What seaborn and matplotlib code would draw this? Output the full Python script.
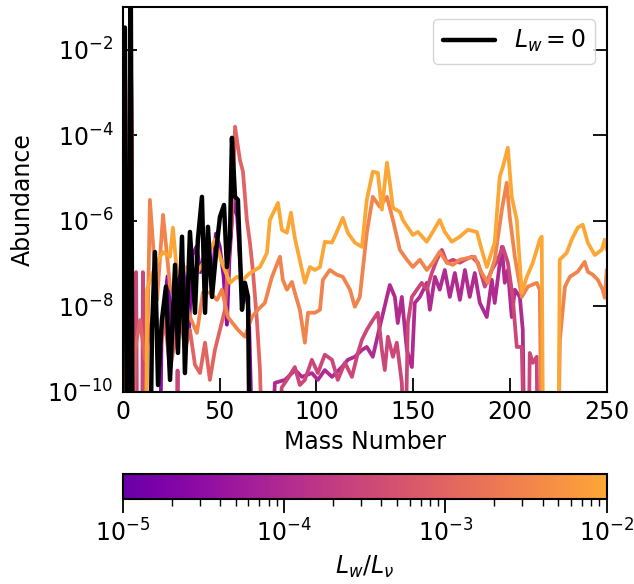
import numpy as np
import pandas as pd
import matplotlib
matplotlib.use("Agg")
import matplotlib.pyplot as plt
import seaborn as sns
from matplotlib.colors import LogNorm, ListedColormap
from matplotlib.cm import ScalarMappable
from matplotlib.ticker import NullLocator

# Wind luminosity ratios L_w / L_nu of the coloured runs
lw_values = [3e-5, 1e-4, 3e-4, 1e-3, 3e-3, 1e-2]

# (mass number, log10 abundance); -12 marks abundances far below the plotted range
run_3e5 = [(1, -1.5), (2, -12), (3, -12), (4, -0.3), (5, -12), (19, -12), (20, -8.5), (23, -7.3),
           (26, -9.0), (28, -7.5), (31, -7.0), (34, -8.6), (36, -6.8), (38, -6.6), (40, -7.2),
           (42, -6.8), (44, -6.5), (46, -7.5), (48, -6.3), (50, -6.6), (52, -7.3), (53.7, -8.43),
           (55, -6.9), (57, -5.5), (59, -5.9), (61, -7.3), (63, -7.6), (65, -8.1), (66, -9.8),
           (67, -12)]

run_1e4 = [(1, -1.5), (2, -12), (3, -12), (4, -0.3), (5, -12), (76, -12), (78.5, -9.79),
           (83.7, -9.72), (89, -9.49), (92.5, -9.65), (97.6, -9.56), (100.7, -9.72), (104.3, -9.49),
           (108, -9.65), (113.1, -9.42), (116.2, -9.25), (119.8, -9.18), (123.5, -9.02), (126, -8.95),
           (129.1, -9.18), (132.7, -8.48), (136.4, -7.78), (137.9, -7.50), (140.5, -7.78),
           (142, -8.39), (144.1, -7.78), (146.7, -9.02), (149.3, -9.42), (150.8, -7.92),
           (153.4, -7.78), (157, -7.45), (158.6, -8.08), (161.2, -7.31), (163.7, -7.61),
           (166.3, -7.15), (168.9, -7.78), (171.5, -7.22), (174.1, -7.85), (176.7, -7.15),
           (179.2, -7.78), (181.8, -7.22), (184.4, -7.92), (188, -8.25), (190.6, -7.38),
           (192.1, -7.92), (195.8, -6.61), (197.3, -7.45), (198.9, -7.15), (200.9, -8.25),
           (202.5, -7.61), (205.1, -7.78), (206.6, -8.55), (207.6, -12)]

run_3e4 = [(1, -1.5), (2, -12), (3, -12), (4, -0.3), (5, -12), (6.4, -12), (6.8, -7.2), (7.4, -12),
           (9.8, -12), (10.3, -7.2), (10.9, -12), (27.5, -12), (28.2, -9.5), (28.8, -12), (80, -12),
           (82, -9.9), (85, -9.7), (88.8, -9.42), (91.4, -9.84), (94, -9.72), (97.6, -9.25),
           (100.7, -9.56), (104.3, -9.13), (108, -9.25), (111, -9.72), (114.7, -9.32),
           (118.3, -9.65), (121.4, -9.09), (123.5, -8.78), (126, -8.55), (129.1, -8.32),
           (131.7, -8.15), (133.8, -9.02), (135.3, -9.49), (136.9, -8.71), (139.5, -9.18),
           (141.5, -8.85), (144.1, -9.79), (145.7, -12), (147.2, -8.39), (149.3, -7.78),
           (151.9, -7.61), (154.4, -7.45), (157, -7.61), (159.6, -7.22), (162.2, -6.91),
           (164.8, -6.68), (167.4, -6.98), (170.5, -6.91), (174.1, -6.98), (176.7, -6.91),
           (180.3, -6.84), (183.4, -6.98), (187, -7.54), (190.6, -7.15), (193.7, -6.91),
           (196.3, -6.61), (198.9, -6.98), (201.4, -7.78), (203.5, -8.95), (206.1, -8.95),
           (207.6, -12), (209.5, -12), (210.2, -9.09), (211.8, -9.32), (213.8, -9.18), (214.4, -12)]

run_1e3 = [(1, -1.5), (2, -12), (3, -12), (4, -0.3), (5, -12), (6.2, -9.02), (8.8, -8.32),
           (11.4, -9.25), (13.9, -8.55), (16.5, -7.96), (19.1, -9.02), (21.7, -8.32), (24.3, -9.49),
           (26.9, -8.78), (29.4, -8.08), (32, -9.02), (34.6, -8.55), (37.2, -9.37), (39.8, -9.56),
           (42.4, -8.85), (44.9, -9.72), (47.5, -9.02), (50.1, -8.55), (52.7, -8.08), (54.8, -6.68),
           (56.3, -5.98), (57.9, -3.80), (60.4, -4.57), (62, -4.85), (64, -5.98), (65.6, -6.51),
           (67.1, -7.15), (69.2, -8.32), (70.8, -9.49), (72.3, -12)]

run_3e3 = [(1, -1.5), (2, -12), (3, -12), (4, -0.3), (5, -12), (11.4, -12), (13.9, -5.51),
           (17.6, -7.85), (20.7, -5.86), (24.3, -7.54), (27.9, -7.85), (31, -7.61), (34.6, -8.25),
           (38.2, -8.62), (41.3, -7.68), (44.9, -7.68), (48.6, -7.85), (51.1, -7.61), (54.2, -8.25),
           (59.4, -8.55), (63, -8.71), (66.6, -8.25), (69.7, -8.08), (73.3, -7.92), (77, -7.31),
           (81.1, -6.84), (82.6, -7.38), (84.7, -7.61), (87.3, -7.43), (88.8, -7.68), (91.4, -8.08),
           (94, -8.85), (95.6, -8.15), (99.2, -8.15), (101.8, -8.08), (103.3, -7.38), (106.9, -7.15),
           (110.5, -7.26), (113.6, -7.31), (117.3, -7.61), (119.8, -8.01), (122.4, -7.78),
           (126, -6.28), (129.1, -5.44), (132.7, -5.67), (136.4, -5.44), (139.5, -5.98),
           (143.1, -6.68), (146.7, -6.91), (149.8, -7.08), (153.4, -6.91), (157, -7.15),
           (160.1, -6.98), (163.7, -6.72), (167.4, -6.98), (170.5, -7.03), (174.1, -6.91),
           (178.2, -6.87), (181.8, -6.84), (185.4, -7.22), (188.5, -7.45), (192.1, -6.91),
           (195.8, -5.74), (198.3, -5.11), (199.9, -5.91), (202.5, -6.84), (206.1, -7.78),
           (209.2, -7.54), (213.8, -7.45), (215.4, -7.61), (216.4, -12), (224.8, -12),
           (225.8, -8.78), (228.4, -7.54), (230.9, -7.31), (235, -7.19), (238.6, -6.96),
           (240.2, -7.19), (242.8, -7.26), (245.4, -7.38), (247.9, -7.61), (249, -7.80), (250, -7.15)]

run_1e2 = [(1, -1.5), (2, -12), (3, -12), (4, -0.3), (5, -12), (11.9, -12), (12.4, -7.61),
           (15, -7.26), (17.6, -6.96), (20.7, -6.73), (24.3, -6.84), (25.8, -6.16), (27.9, -7.22),
           (33, -7.08), (38.2, -7.22), (43.4, -6.84), (47.5, -6.44), (51.1, -6.98), (55.3, -7.45),
           (58.9, -7.31), (62, -7.38), (65.6, -7.22), (70.8, -7.08), (74.4, -6.75), (75.9, -5.98),
           (80.1, -5.58), (82.1, -6.21), (84.7, -6.28), (86.8, -5.81), (88.8, -6.40), (94, -7.45),
           (96.6, -7.08), (99.2, -7.15), (101.8, -7.08), (104.3, -6.49), (108, -6.51),
           (110.5, -6.26), (113.6, -5.93), (116.2, -6.28), (119.8, -6.51), (123.5, -6.61),
           (126, -5.51), (129.1, -4.85), (131.7, -4.88), (133.8, -5.74), (136.4, -4.64),
           (137.9, -5.11), (139.5, -5.70), (143.1, -5.79), (144.6, -5.98), (149.8, -6.33),
           (152.4, -6.26), (157, -6.49), (160.1, -6.26), (163.7, -5.98), (166.3, -6.26),
           (169.9, -6.49), (174.1, -6.37), (178.2, -6.21), (182.9, -6.26), (185.4, -6.68),
           (188, -7.08), (192.1, -6.51), (194.7, -4.97), (196.3, -4.74), (198.9, -4.29),
           (200.9, -5.44), (203.5, -5.98), (206.1, -7.68), (208.7, -7.31), (211.8, -6.98),
           (215.4, -6.44), (216.4, -6.37), (217.2, -12), (225, -12), (225.7, -6.91), (229.3, -6.75),
           (231.9, -6.44), (235, -6.16), (237.6, -6.09), (240.2, -6.51), (243.8, -6.80),
           (247.4, -6.68), (249, -6.44), (250, -6.68)]

# Run without wind luminosity
run_zero = [(1, -1.48), (2, -12), (3, -12), (4, -0.3), (5, -12), (14, -12), (15, -8.55),
            (16.5, -6.73), (18.1, -9.84), (20.1, -8.32), (22.2, -7.54), (24.3, -9.72), (26.9, -7.03),
            (28.4, -9.09), (30.5, -6.37), (32, -9.56), (34.6, -6.26), (37.2, -8.15), (38.7, -6.44),
            (40.8, -5.44), (42.4, -8.15), (43.9, -6.14), (46, -7.78), (48.6, -6.51), (50.1, -5.91),
            (52.2, -5.63), (53.7, -7.08), (55.3, -6.37), (56.3, -4.06), (57.9, -5.44), (59.4, -5.51),
            (61.5, -8.08), (63, -7.45), (64.6, -7.78), (65.6, -12)]

runs = [run_3e5, run_1e4, run_3e4, run_1e3, run_3e3, run_1e2]

rows = []
for lw, pts in zip(lw_values, runs):
    for a, logy in pts:
        rows.append((lw, a, 10.0 ** logy))
df = pd.DataFrame(rows, columns=["Lw", "A", "Y"])

zero_A = [p[0] for p in run_zero]
zero_Y = [10.0 ** p[1] for p in run_zero]

sns.set_style("ticks")
plt.rcParams["font.family"] = ["DejaVu Sans"]
plt.rcParams["mathtext.fontset"] = "dejavusans"
for key in ["text.color", "axes.labelcolor", "xtick.color", "ytick.color", "axes.edgecolor"]:
    plt.rcParams[key] = "black"

FS = 17

fig = plt.figure(figsize=(6.34, 5.84), dpi=100)
ax = fig.add_axes([0.194, 0.329, 0.763, 0.659])
cax = fig.add_axes([0.194, 0.1455, 0.763, 0.043])

cmap = ListedColormap(plt.cm.plasma(np.linspace(0.2, 0.8, 256)))
norm = LogNorm(vmin=1e-5, vmax=1e-2)

sns.lineplot(data=df, x="A", y="Y", hue="Lw", palette=cmap, hue_norm=norm,
             units="Lw", estimator=None, sort=False, legend=False, lw=2.7, ax=ax)
sns.lineplot(x=zero_A, y=zero_Y, color="black", lw=3.2, estimator=None, sort=False,
             label="$L_w = 0$", ax=ax)

ax.set_yscale("log")
ax.set_xlim(0, 250)
ax.set_ylim(1e-10, 1e-1)
ax.set_xticks([0, 50, 100, 150, 200, 250])
ax.set_yticks([1e-10, 1e-8, 1e-6, 1e-4, 1e-2])
ax.yaxis.set_minor_locator(NullLocator())
ax.tick_params(direction="in", length=10, width=1.3, right=True, top=False, labelsize=FS)
ax.tick_params(axis="y", pad=7)
ax.tick_params(axis="x", pad=6)
for s in ax.spines.values():
    s.set_linewidth(1.5)
ax.set_xlabel("Mass Number", fontsize=FS, labelpad=4)
ax.set_ylabel("Abundance", fontsize=FS, labelpad=9)
ax.legend(loc="upper right", fontsize=FS, handlelength=2.2)

cb = fig.colorbar(ScalarMappable(norm=norm, cmap=cmap), cax=cax, orientation="horizontal")
cb.outline.set_linewidth(1.5)
cb.ax.tick_params(which="major", length=10, width=1.3, labelsize=FS, pad=5)
cb.ax.tick_params(which="minor", length=5, width=1.0)
cb.set_label("$L_w/L_\\nu$", fontsize=FS, labelpad=5)

fig.savefig("out.png", dpi=100)
